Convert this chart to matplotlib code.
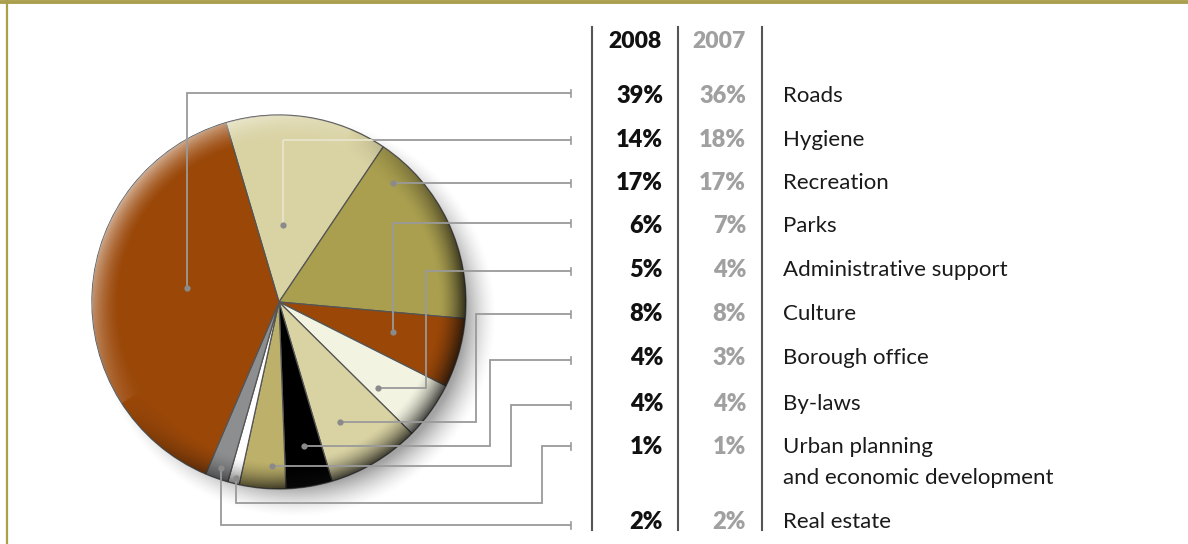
import numpy as np
import matplotlib
matplotlib.use("Agg")
import matplotlib.pyplot as plt
from matplotlib.patches import Circle

# data
categories = ["Roads", "Hygiene", "Recreation", "Parks", "Administrative support",
              "Culture", "Borough office", "By-laws",
              "Urban planning\nand economic development", "Real estate"]
pct_2008 = [39, 14, 17, 6, 5, 8, 4, 4, 1, 2]
pct_2007 = [36, 18, 17, 7, 4, 8, 3, 4, 1, 2]
years = ["2008", "2007"]
slice_colors = ["#9a4708", "#d9d2a3", "#aa9f4f", "#9a4708", "#f3f3e2",
                "#d9d2a3", "#000000", "#bdb06a", "#ffffff", "#8d8e90"]
# pie is drawn clockwise starting with Hygiene, Roads comes last
pie_order = [1, 2, 3, 4, 5, 6, 7, 8, 9, 0]

W, H = 1188, 544


def Y(y):
    # pixel row (top down) -> data y
    return H - y


# layout (pixels, top-down)
cx, cy, R = 279, 302, 187
text_y = [96, 140, 183, 226, 270, 314, 358, 404, 447, 522]
# dot placement inside each wedge: fraction of the wedge angle, fraction of radius
dot_pos = [(0.46, 0.50), (0.61, 0.41), (0.84, 0.88), (0.56, 0.63), (0.21, 0.70),
           (0.36, 0.72), (0.54, 0.78), (0.69, 0.88), (0.61, 0.97), (0.53, 0.94)]
tick_x = 571
routes = [[("y", 93)], [("y", 140)], [("y", 183)], [("y", 223)],
          [("x", 426), ("y", 271)], [("x", 476), ("y", 314)],
          [("x", 490), ("y", 360)], [("x", 511), ("y", 405)],
          [("y", 503), ("x", 542), ("y", 446)], [("y", 525)]]

fig = plt.figure(figsize=(W / 100, H / 100), dpi=100)
ax = fig.add_axes([0, 0, 1, 1])

# drop shadow
gx, gy = np.meshgrid(np.arange(0, W, 1.0), np.arange(0, H, 1.0))
sx, sy = cx + 16, cy + 14
d = np.hypot(gx - sx, gy - sy)
sh = np.clip((R + 14 - d) / 32.0, 0, 1) ** 1.5 * 0.55
shadow = np.zeros((H, W, 4))
shadow[..., :3] = 0.35
shadow[..., 3] = sh
ax.imshow(shadow, extent=(0, W, 0, H), origin="upper", zorder=1, interpolation="bilinear")

vals = [pct_2008[i] for i in pie_order]
cols = [slice_colors[i] for i in pie_order]
wedges, _ = ax.pie(vals, colors=cols, startangle=106.5, counterclock=False,
                   center=(cx, Y(cy)), radius=R,
                   wedgeprops=dict(edgecolor="#555555", linewidth=0.9))
for w in wedges:
    w.set_zorder(2)

# glossy rim shading, clipped to the disc
d0 = np.hypot(gx - cx, gy - cy)
ang = np.arctan2(-(gy - cy), gx - cx)
edge = np.clip((d0 / R - 0.85) / 0.15, 0, 1) ** 1.6
s = np.cos(ang - np.deg2rad(-40))
rim = np.zeros((H, W, 4))
dark = np.clip(s + 0.3, 0, 1)
light = np.clip(-s - 0.1, 0, 1)
rim[..., :3] = np.where((dark > 0)[..., None], 0.05, 1.0)
rim[..., 3] = edge * np.where(dark > 0, 0.8 * dark, 0.6 * light)
im = ax.imshow(rim, extent=(0, W, 0, H), origin="upper", zorder=3, interpolation="bilinear")
disc = Circle((cx, Y(cy)), R, transform=ax.transData)
im.set_clip_path(disc)

# leader lines
wedge_of = {cat_i: wedges[k] for k, cat_i in enumerate(pie_order)}
line_col = "#9a9a9a"
for i, cat in enumerate(categories):
    w = wedge_of[i]
    fa, fr = dot_pos[i]
    a = np.deg2rad(w.theta1 + fa * (w.theta2 - w.theta1))
    px = cx + fr * R * np.cos(a)
    py = cy - fr * R * np.sin(a)
    xs, ys = [px], [py]
    for kind, v in routes[i]:
        if kind == "x":
            xs.append(v); ys.append(ys[-1])
        else:
            xs.append(xs[-1]); ys.append(v)
    xs.append(tick_x); ys.append(ys[-1])
    ax.plot(xs, [Y(v) for v in ys], color=line_col, lw=1.3, zorder=4,
            solid_capstyle="butt", solid_joinstyle="miter")
    if i == 1:
        ln, = ax.plot(xs, [Y(v) for v in ys], color="#eeeacd", lw=1.3, zorder=4.5)
        ln.set_clip_path(Circle((cx, Y(cy)), R, transform=ax.transData))
    ax.plot([px], [Y(py)], "o", color="#8a8a8a", ms=4.5, mec="none", zorder=5)
    ax.plot([tick_x, tick_x], [Y(ys[-1]) - 3.5, Y(ys[-1]) + 3.5], color=line_col,
            lw=1.2, zorder=4)

# table
for x in (592, 678, 762):
    ax.plot([x, x], [Y(27), Y(530)], color="#555555", lw=1.5, zorder=4)

fam = ["Lato", "DejaVu Sans"]
ax.text(662, Y(42), years[0], ha="right", va="center", fontsize=16.5,
        fontweight="heavy", color="#111111", family=fam)
ax.text(746, Y(42), years[1], ha="right", va="center", fontsize=16.5,
        fontweight="heavy", color="#a0a0a0", family=fam)
for i, cat in enumerate(categories):
    yy = text_y[i]
    ax.text(663, Y(yy), f"{pct_2008[i]}%", ha="right", va="center", fontsize=17,
            fontweight="heavy", color="#111111", family=fam)
    ax.text(746, Y(yy), f"{pct_2007[i]}%", ha="right", va="center", fontsize=17,
            fontweight="heavy", color="#a0a0a0", family=fam)
    for j, part in enumerate(cat.split("\n")):
        ax.text(783, Y(yy + 31 * j), part, ha="left", va="center", fontsize=16,
                fontweight="normal", color="#1a1a1a", family=fam)

# frame: gold top bar and left rule
ax.plot([0, W], [Y(1.8), Y(1.8)], color="#ab9f4f", lw=2.8, zorder=6,
        solid_capstyle="butt")
ax.plot([7, 7], [Y(0), Y(H)], color="#ab9f4f", lw=1.6, zorder=6,
        solid_capstyle="butt")

ax.set_xlim(0, W)
ax.set_ylim(0, H)
ax.set_aspect("auto")
ax.axis("off")

fig.savefig("out.png", dpi=100)
